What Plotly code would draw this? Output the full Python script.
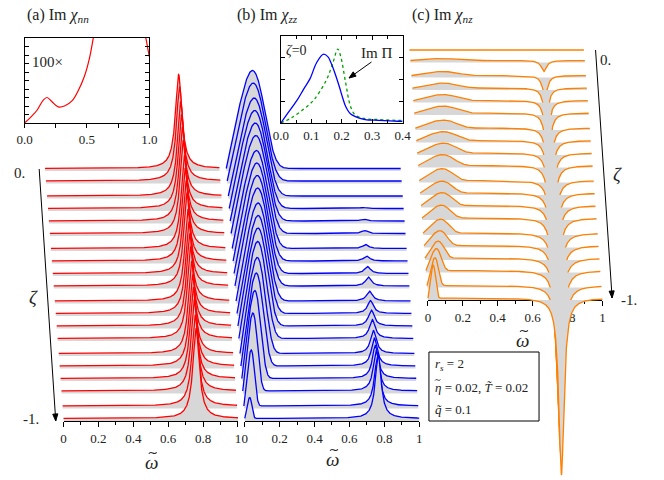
import numpy as np
import plotly.graph_objects as go

W, H = 664, 480

# ---------------- data ----------------
zeta = [0.0, -0.05, -0.11, -0.16, -0.21, -0.26, -0.32, -0.37, -0.42, -0.47,
        -0.53, -0.58, -0.63, -0.68, -0.74, -0.79, -0.84, -0.89, -0.95, -1.0]

# (a) Im chi_nn : plasmon peak per zeta (position, height a.u.)
a_peak_pos = [0.766, 0.766, 0.766, 0.765, 0.765, 0.765, 0.765, 0.764, 0.764, 0.764,
              0.763, 0.763, 0.763, 0.762, 0.762, 0.762, 0.761, 0.761, 0.760, 0.760]
a_peak_height = [94, 94, 94, 94, 94, 93, 93, 93, 93, 93,
                 92, 92, 92, 92, 92, 91, 91, 91, 91, 90]

# (b) Im chi_zz : soft (spin) hump + plasmon satellite
b_soft_pos = [0.150, 0.149, 0.148, 0.146, 0.144, 0.142, 0.139, 0.136, 0.133, 0.130,
              0.126, 0.121, 0.115, 0.108, 0.099, 0.088, 0.074, 0.058, 0.042, 0.028]
b_soft_height = [98, 98, 98, 98, 98, 98, 98, 98, 98, 98,
                 98, 98, 98, 97, 96, 93, 88, 78, 56, 21]
b_plasmon_pos = [0.765] * 20
b_plasmon_height = [0, 0, 0, 1, 2, 3, 4, 5, 7, 9,
                    10, 13, 16, 19, 23, 28, 33, 40, 48, 64]

# (c) Im chi_nz : positive soft hump + negative plasmon dip
c_soft_pos = [0.18, 0.18, 0.18, 0.175, 0.17, 0.165, 0.16, 0.155, 0.15, 0.14,
              0.13, 0.125, 0.12, 0.11, 0.10, 0.09, 0.075, 0.06, 0.045, 0.03]
c_soft_height = [0, 2, 4, 5, 6, 7, 8, 9, 10, 11,
                 12, 12, 13, 13, 14, 15, 17, 22, 28, 33]
c_dip_pos = [0.765] * 20
c_dip_depth = [0, 11, 20, 29, 38, 47, 56, 65, 74, 83,
               92, 101, 110, 119, 128, 137, 147, 157, 167, 177]

# inset (a): 100 x Im chi_nn at zeta = 0
inset_a_w = [0.0, 0.05, 0.10, 0.15, 0.18, 0.22, 0.27, 0.32, 0.38, 0.43, 0.48, 0.52, 0.56]
inset_a_v = [0.0, 0.07, 0.15, 0.27, 0.30, 0.25, 0.19, 0.20, 0.26, 0.38, 0.55, 0.76, 1.08]
inset_a_w2 = [0.96, 0.975, 0.99, 1.0]
inset_a_v2 = [1.08, 0.98, 0.86, 0.78]

# inset (b): Im chi_zz (zeta=0) and Im Pi
inset_b_w = [0.0, 0.02, 0.053, 0.075, 0.096, 0.117, 0.139, 0.155, 0.165, 0.178, 0.192,
             0.203, 0.213, 0.225, 0.235, 0.255, 0.277, 0.32, 0.384, 0.40]
inset_b_chi = [0.0, 0.10, 0.26, 0.39, 0.51, 0.69, 0.79, 0.76, 0.69, 0.57, 0.42,
               0.29, 0.19, 0.12, 0.09, 0.06, 0.04, 0.03, 0.02, 0.02]
inset_b_pw = [0.0, 0.03, 0.064, 0.107, 0.149, 0.171, 0.187, 0.197, 0.213, 0.229,
              0.245, 0.277, 0.32, 0.384, 0.40]
inset_b_pi = [0.0, 0.05, 0.13, 0.26, 0.49, 0.69, 0.85, 0.76, 0.46, 0.19,
              0.09, 0.05, 0.04, 0.03, 0.03]

main_ticks = [0, 0.2, 0.4, 0.6, 0.8, 1.0]
main_ticktext = ["0", "0.2", "0.4", "0.6", "0.8", "1"]
main_minor = [0.1, 0.3, 0.5, 0.7, 0.9]

# ---------------- styling constants ----------------
SCALE = 179.0   # px per unit of omega
STACK = 250.0   # px between zeta=0 and zeta=-1 baselines
SKEW = 19.0     # px horizontal skew between zeta=0 and zeta=-1
GRAY = "#d7d7d7"
SERIF = "Liberation Serif"
RED, BLUE, ORANGE, GREEN = "#ff0000", "#0000ff", "#ff8000", "#00a000"

ORIG = {"a": (57, 421), "b": (243, 421), "c": (431, 300)}

def fx(p):
    return p / W

def fy(p):
    return 1 - p / H

def lor(w, w0, g):
    return g * g / ((w - w0) ** 2 + g * g)

def hump(w, wp):
    t = w / wp
    return t * np.exp((1 - t ** 4) / 4)

w = np.linspace(0, 1, 1201)

fig = go.Figure()

# tick axes first (so curves may cover them), dummy invisible traces
for i in range(1, 4):
    fig.add_trace(go.Scatter(x=[0.5], y=[0.5], xaxis=f"x{'' if i == 1 else i}",
                             yaxis=f"y{'' if i == 1 else i}", mode="markers",
                             marker=dict(opacity=0), hoverinfo="skip", showlegend=False))

def add_panel(axid, color, values_fn, offset_fn):
    xa, ya = f"x{axid}", f"y{axid}"
    for k, z in enumerate(zeta):
        base = (z + 1.0) * STACK
        shift = (z + 1.0) * SKEW / SCALE
        vals = values_fn(k)
        yy = base + offset_fn(k) + vals
        xx = w - shift
        fig.add_trace(go.Scatter(
            x=np.concatenate([xx, xx[::-1]]),
            y=np.concatenate([yy, np.full_like(xx, base)]),
            xaxis=xa, yaxis=ya, mode="lines", fill="toself", fillcolor=GRAY,
            line=dict(width=0), hoverinfo="skip", showlegend=False))
        fig.add_trace(go.Scatter(x=xx, y=yy, xaxis=xa, yaxis=ya, mode="lines",
                                 line=dict(color=color, width=1.3),
                                 hoverinfo="skip", showlegend=False))

add_panel(4, RED,
          lambda k: a_peak_height[k] * lor(w, a_peak_pos[k], 0.022),
          lambda k: 2.5)
add_panel(5, BLUE,
          lambda k: b_soft_height[k] * hump(w, b_soft_pos[k])
          + b_plasmon_height[k] * lor(w, b_plasmon_pos[k], 0.02),
          lambda k: 2.5)
add_panel(6, ORANGE,
          lambda k: c_soft_height[k] * hump(w, c_soft_pos[k])
          - c_dip_depth[k] * lor(w, c_dip_pos[k], 0.018),
          lambda k: 0.0 if k == 0 else 2.0)

# insets
fig.add_trace(go.Scatter(x=inset_a_w, y=inset_a_v, xaxis="x7", yaxis="y7", mode="lines",
                         line=dict(color=RED, width=1.2, shape="spline"),
                         hoverinfo="skip", showlegend=False))
fig.add_trace(go.Scatter(x=inset_a_w2, y=inset_a_v2, xaxis="x7", yaxis="y7", mode="lines",
                         line=dict(color=RED, width=1.2, shape="spline"),
                         hoverinfo="skip", showlegend=False))
fig.add_trace(go.Scatter(x=inset_b_pw, y=inset_b_pi, xaxis="x8", yaxis="y8", mode="lines",
                         line=dict(color=GREEN, width=1.3, dash="dot", shape="spline"),
                         hoverinfo="skip", showlegend=False))
fig.add_trace(go.Scatter(x=inset_b_w, y=inset_b_chi, xaxis="x8", yaxis="y8", mode="lines",
                         line=dict(color=BLUE, width=1.3, shape="spline"),
                         hoverinfo="skip", showlegend=False))

tickfont = dict(family=SERIF, size=13, color="#222")
layout = dict(width=W, height=H, margin=dict(l=0, r=0, t=0, b=0),
              paper_bgcolor="white", plot_bgcolor="rgba(0,0,0,0)", showlegend=False)

# main tick axes
for i, key in zip(["", "2", "3"], ["a", "b", "c"]):
    x0, yb = ORIG[key]
    layout[f"xaxis{i}"] = dict(domain=[fx(x0), fx(x0 + SCALE)], range=[0, 1],
                               anchor=f"y{i}", showline=True, linecolor="black", linewidth=1,
                               ticks="outside", ticklen=5, tickcolor="black",
                               tickvals=main_ticks, ticktext=main_ticktext,
                               minor=dict(tickvals=main_minor, ticks="outside", ticklen=3,
                                          tickcolor="black"),
                               showgrid=False, zeroline=False, tickfont=tickfont,
                               fixedrange=True)
    layout[f"yaxis{i}"] = dict(domain=[fy(yb), fy(yb) + 0.02], anchor=f"x{i}",
                               visible=False, range=[0, 1])

# curve axes
for i, key in zip(["4", "5", "6"], ["a", "b", "c"]):
    x0, yb = ORIG[key]
    layout[f"xaxis{i}"] = dict(domain=[0, 1], range=[-x0 / SCALE, (W - x0) / SCALE],
                               anchor=f"y{i}", visible=False)
    layout[f"yaxis{i}"] = dict(domain=[0, 1], range=[-(H - yb), yb],
                               anchor=f"x{i}", visible=False)

# inset (a)
layout["xaxis7"] = dict(domain=[fx(17), fx(145)], range=[0, 1], anchor="y7",
                        showline=True, mirror=True, linecolor="black", linewidth=1,
                        ticks="outside", ticklen=4, tickcolor="black",
                        tickvals=[0, 0.5, 1.0], ticktext=["0.0", "0.5", "1.0"],
                        minor=dict(tickvals=[0.25, 0.75], ticks="outside", ticklen=4,
                                   tickcolor="black"),
                        showgrid=False, zeroline=False, tickfont=tickfont)
layout["yaxis7"] = dict(domain=[fy(123), fy(38)], range=[0, 1], anchor="x7",
                        showline=True, mirror="ticks", linecolor="black", linewidth=1,
                        ticks="inside", ticklen=4, tickcolor="black", dtick=0.1,
                        showticklabels=False, showgrid=False, zeroline=False)
# inset (b)
layout["xaxis8"] = dict(domain=[fx(280), fx(405)], range=[0, 0.4], anchor="y8",
                        showline=True, mirror="ticks", linecolor="black", linewidth=1,
                        ticks="inside", ticklen=4, tickcolor="black",
                        tickvals=[0, 0.1, 0.2, 0.3, 0.4],
                        ticktext=["0.0", "0.1", "0.2", "0.3", "0.4"],
                        minor=dict(tickvals=[0.05, 0.15, 0.25, 0.35], ticks="inside",
                                   ticklen=3, tickcolor="black"),
                        showgrid=False, zeroline=False, tickfont=tickfont)
layout["yaxis8"] = dict(domain=[fy(123), fy(36)], range=[0, 1.0], anchor="x8",
                        showline=True, mirror="ticks", linecolor="black", linewidth=1,
                        ticks="inside", ticklen=4, tickcolor="black", dtick=0.25,
                        showticklabels=False, showgrid=False, zeroline=False)

fig.update_layout(**layout)

def txt(x, y, s, size=15, xanchor="center"):
    fig.add_annotation(x=fx(x), y=fy(y), xref="paper", yref="paper", text=s,
                       showarrow=False, xanchor=xanchor, yanchor="middle",
                       font=dict(family=SERIF, size=size, color="#222"))

def tilde(cx, cy, wd=7.0, a=1.2, lw=1.0):
    # small tilde accent drawn as a cubic bezier (pixel geometry -> paper)
    p0 = (cx - wd / 2, cy + a * 0.6)
    c1 = (cx - wd / 6, cy - a * 2.6)
    c2 = (cx + wd / 6, cy + a * 2.6)
    p1 = (cx + wd / 2, cy - a * 0.6)
    f = lambda p: f"{fx(p[0]):.5f},{fy(p[1]):.5f}"
    path = f"M {f(p0)} C {f(c1)} {f(c2)} {f(p1)}"
    fig.add_shape(type="path", xref="paper", yref="paper", path=path,
                  line=dict(color="#222", width=lw))

def omega_tilde(x, y):
    txt(x, y, "<i>ω</i>", 19)
    tilde(x + 1.5, y - 9, wd=8, a=1.3, lw=1.1)

txt(17, 15, "(a) Im <i>χ</i><sub><i>nn</i></sub>", 16, "left")
txt(233, 15, "(b) Im <i>χ</i><sub><i>zz</i></sub>", 16, "left")
txt(413, 15, "(c) Im <i>χ</i><sub><i>nz</i></sub>", 16, "left")
txt(23, 62, "100×", 15, "left")
txt(283, 51, "<i>ζ</i>=0", 14, "left")
txt(360, 53, "Im Π", 15, "left")
omega_tilde(147, 462)
omega_tilde(333, 459)
omega_tilde(528, 340)
# zeta labels
txt(12, 173, "0.", 15)
txt(26, 297, "<i>ζ</i>", 19)
txt(24, 419, "-1.", 15)
txt(613, 60, "0.", 15)
txt(626, 174, "<i>ζ</i>", 19)
txt(637, 300, "-1.", 15)

def arrow(x0, y0, x1, y1, head=7.0, half=2.6):
    fig.add_shape(type="line", xref="paper", yref="paper",
                  x0=fx(x0), y0=fy(y0), x1=fx(x1), y1=fy(y1),
                  line=dict(color="black", width=1))
    dx, dy = x1 - x0, y1 - y0
    L = (dx * dx + dy * dy) ** 0.5
    ux, uy = dx / L, dy / L
    bx, by = x1 - ux * head, y1 - uy * head
    px_, py_ = -uy * half, ux * half
    pts = [(x1, y1), (bx + px_, by + py_), (bx - px_, by - py_)]
    path = "M " + " L ".join(f"{fx(a):.5f},{fy(b):.5f}" for a, b in pts) + " Z"
    fig.add_shape(type="path", xref="paper", yref="paper", path=path,
                  fillcolor="black", line=dict(color="black", width=1))

arrow(32, 169, 49, 421)
arrow(603, 50, 620, 298)
arrow(373, 62, 350, 78)

# parameter box
fig.add_shape(type="rect", xref="paper", yref="paper",
              x0=fx(432), x1=fx(545), y0=fy(421), y1=fy(352),
              line=dict(color="black", width=1), fillcolor="white")
txt(436, 364, "<i>r</i><sub><i>s</i></sub> = 2", 13, "left")
txt(436, 387, "<i>η</i> = 0.02, <i>T̃</i> = 0.02", 13, "left")
tilde(441, 380, wd=5.5, a=0.9, lw=0.9)
txt(436, 409, "<i>q̃</i> = 0.1", 13, "left")

fig.write_html("out.html")
